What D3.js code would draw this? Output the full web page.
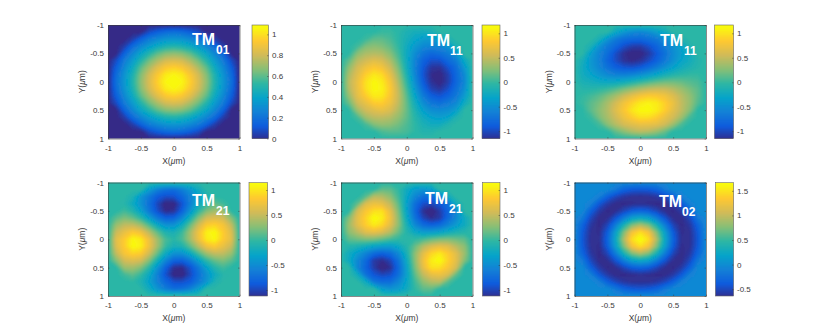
<!DOCTYPE html>
<html>
<head>
<meta charset="utf-8">
<script src="https://cdn.jsdelivr.net/npm/d3@7"></script>
<style>
  html, body { margin: 0; padding: 0; background: #fff; }
  svg { display: block; }
</style>
</head>
<body>
<div id="chart"></div>
<script>
// Field values, in hundredths, 17 x 17 samples
// rows run Y = -1 .. 1, columns X = -1 .. 1 (step 0.125)
const gridTM01 = [
  [0,0,0,0,0,0,0,0,0,0,0,0,0,0,0,0,0],
  [0,0,0,0,0,10,16,20,22,20,16,10,0,0,0,0,0],
  [0,0,0,6,17,26,31,35,36,35,31,26,17,6,0,0,0],
  [0,0,6,20,30,38,45,50,52,50,45,38,30,20,6,0,0],
  [0,0,17,30,42,52,62,68,70,68,62,52,42,30,17,0,0],
  [0,10,26,38,52,65,75,83,85,83,75,65,52,38,26,10,0],
  [0,16,31,45,62,75,87,95,98,95,87,75,62,45,31,16,0],
  [0,20,35,50,68,83,95,105,108,105,95,83,68,50,35,20,0],
  [0,22,36,52,70,85,98,108,111,108,98,85,70,52,36,22,0],
  [0,20,35,50,68,83,95,105,108,105,95,83,68,50,35,20,0],
  [0,16,31,45,62,75,87,95,98,95,87,75,62,45,31,16,0],
  [0,10,26,38,52,65,75,83,85,83,75,65,52,38,26,10,0],
  [0,0,17,30,42,52,62,68,70,68,62,52,42,30,17,0,0],
  [0,0,6,20,30,38,45,50,52,50,45,38,30,20,6,0,0],
  [0,0,0,6,17,26,31,35,36,35,31,26,17,6,0,0,0],
  [0,0,0,0,0,10,16,20,22,20,16,10,0,0,0,0,0],
  [0,0,0,0,0,0,0,0,0,0,0,0,0,0,0,0,0]
];
const gridTM11a = [
  [0,0,0,0,0,0,0,0,0,0,0,0,0,0,0,0,0],
  [0,0,0,0,0,5,5,-1,-10,-15,-16,-12,0,0,0,0,0],
  [0,0,0,6,18,18,11,-1,-13,-25,-34,-37,-30,-10,0,0,0],
  [0,0,8,28,33,29,19,2,-18,-36,-49,-53,-52,-41,-10,0,0],
  [0,0,32,45,48,46,31,8,-20,-46,-66,-75,-69,-60,-40,0,0],
  [0,19,50,61,70,64,46,16,-19,-53,-79,-92,-91,-75,-60,-22,0],
  [0,35,63,79,89,82,60,26,-15,-55,-86,-107,-109,-91,-72,-38,0],
  [0,46,70,93,107,100,74,36,-8,-52,-89,-113,-117,-102,-75,-49,0],
  [0,52,76,103,117,109,84,45,0,-45,-84,-109,-117,-103,-76,-52,0],
  [0,49,75,102,117,113,89,52,8,-36,-74,-100,-107,-93,-70,-46,0],
  [0,38,72,91,109,107,86,55,15,-26,-60,-82,-89,-79,-63,-35,0],
  [0,22,60,75,91,92,79,53,19,-16,-46,-64,-70,-61,-50,-19,0],
  [0,0,40,60,69,75,66,46,20,-8,-31,-46,-48,-45,-32,0,0],
  [0,0,10,41,52,53,49,36,18,-2,-19,-29,-33,-28,-8,0,0],
  [0,0,0,10,30,37,34,25,13,1,-11,-18,-18,-6,0,0,0],
  [0,0,0,0,0,12,16,15,10,1,-5,-5,0,0,0,0,0],
  [0,0,0,0,0,0,0,0,0,0,0,0,0,0,0,0,0]
];
const gridTM11b = [
  [0,0,0,0,0,0,0,0,0,0,0,0,0,0,0,0,0],
  [0,0,0,0,0,-22,-38,-49,-52,-46,-33,-19,0,0,0,0,0],
  [0,0,0,-12,-40,-61,-72,-75,-76,-70,-63,-49,-32,-8,0,0,0],
  [0,0,-10,-41,-62,-76,-92,-102,-103,-92,-78,-60,-44,-27,-6,0,0],
  [0,0,-32,-53,-71,-93,-110,-118,-117,-106,-87,-68,-47,-32,-17,0,0],
  [0,-14,-38,-54,-77,-94,-109,-114,-109,-96,-81,-62,-44,-27,-17,-5,0],
  [0,-18,-36,-51,-68,-81,-88,-90,-84,-73,-59,-43,-29,-17,-9,-3,0],
  [0,-17,-27,-39,-49,-56,-57,-53,-45,-35,-24,-13,-5,0,3,3,0],
  [0,-11,-15,-20,-23,-22,-17,-9,0,9,17,22,23,20,15,11,0],
  [0,-3,-3,0,5,13,24,35,45,53,57,56,49,39,27,17,0],
  [0,3,9,17,29,43,59,73,84,90,88,81,68,51,36,18,0],
  [0,5,17,27,44,62,81,96,109,114,109,94,77,54,38,14,0],
  [0,0,17,32,47,68,87,106,117,118,110,93,71,53,32,0,0],
  [0,0,6,27,44,60,78,92,103,102,92,76,62,41,10,0,0],
  [0,0,0,8,32,49,63,70,76,75,72,61,40,12,0,0,0],
  [0,0,0,0,0,19,33,46,52,49,38,22,0,0,0,0,0],
  [0,0,0,0,0,0,0,0,0,0,0,0,0,0,0,0,0]
];
const gridTM21a = [
  [0,0,0,0,0,0,0,0,0,0,0,0,0,0,0,0,0],
  [0,0,0,0,0,-31,-54,-67,-70,-57,-38,-17,0,0,0,0,0],
  [0,0,0,-8,-39,-61,-82,-90,-89,-74,-53,-28,-8,2,0,0,0],
  [0,0,-2,-18,-41,-67,-94,-116,-114,-88,-54,-20,4,18,8,0,0],
  [0,0,8,-4,-28,-61,-89,-110,-107,-78,-40,-1,28,41,39,0,0],
  [0,17,28,20,1,-30,-60,-78,-76,-50,-11,30,61,67,61,31,0],
  [0,38,53,54,40,11,-20,-41,-41,-18,20,60,89,94,83,54,0],
  [0,57,74,88,78,50,18,-6,-11,6,41,78,110,116,90,67,0],
  [0,70,89,114,107,76,41,11,0,11,41,76,107,114,89,70,0],
  [0,67,90,116,110,78,41,6,-11,-6,18,50,78,88,74,57,0],
  [0,54,83,94,89,60,20,-18,-41,-41,-20,11,40,54,53,38,0],
  [0,31,61,67,61,30,-11,-50,-76,-78,-60,-30,1,20,28,17,0],
  [0,0,39,41,28,-1,-40,-78,-107,-110,-89,-61,-28,-4,8,0,0],
  [0,0,8,18,4,-20,-54,-88,-114,-116,-94,-67,-41,-18,-2,0,0],
  [0,0,0,2,-8,-28,-53,-74,-89,-90,-82,-61,-39,-8,0,0,0],
  [0,0,0,0,0,-17,-38,-57,-70,-67,-54,-31,0,0,0,0,0],
  [0,0,0,0,0,0,0,0,0,0,0,0,0,0,0,0,0]
];
const gridTM21b = [
  [0,0,0,0,0,0,0,0,0,0,0,0,0,0,0,0,0],
  [0,0,0,0,0,19,18,3,-18,-34,-40,-31,0,0,0,0,0],
  [0,0,0,16,50,48,34,8,-23,-50,-69,-71,-62,-18,0,0,0],
  [0,0,18,66,76,72,53,17,-28,-68,-90,-94,-85,-66,-16,0,0],
  [0,0,62,85,100,102,71,26,-26,-73,-107,-119,-100,-76,-50,0,0],
  [0,31,71,94,119,109,78,32,-19,-65,-96,-109,-102,-72,-48,-19,0],
  [0,40,69,90,107,96,70,33,-10,-48,-70,-78,-71,-53,-34,-18,0],
  [0,34,50,68,73,65,48,21,-3,-21,-33,-32,-26,-17,-8,-3,0],
  [0,18,23,28,26,19,10,3,0,3,10,19,26,28,23,18,0],
  [0,-3,-8,-17,-26,-32,-33,-21,-3,21,48,65,73,68,50,34,0],
  [0,-18,-34,-53,-71,-78,-70,-48,-10,33,70,96,107,90,69,40,0],
  [0,-19,-48,-72,-102,-109,-96,-65,-19,32,78,109,119,94,71,31,0],
  [0,0,-50,-76,-100,-119,-107,-73,-26,26,71,102,100,85,62,0,0],
  [0,0,-16,-66,-85,-94,-90,-68,-28,17,53,72,76,66,18,0,0],
  [0,0,0,-18,-62,-71,-69,-50,-23,8,34,48,50,16,0,0,0],
  [0,0,0,0,0,-31,-40,-34,-18,3,18,19,0,0,0,0,0],
  [0,0,0,0,0,0,0,0,0,0,0,0,0,0,0,0,0]
];
const gridTM02 = [
  [0,0,0,0,0,0,0,0,0,0,0,0,0,0,0,0,0],
  [0,0,0,0,0,-12,-28,-35,-37,-35,-28,-12,0,0,0,0,0],
  [0,0,0,-6,-30,-46,-55,-59,-60,-59,-55,-46,-30,-6,0,0,0],
  [0,0,-6,-35,-53,-62,-63,-61,-60,-61,-63,-62,-53,-35,-6,0,0],
  [0,0,-30,-53,-63,-60,-47,-33,-28,-33,-47,-60,-63,-53,-30,0,0],
  [0,-12,-46,-62,-60,-38,-8,20,28,20,-8,-38,-60,-62,-46,-12,0],
  [0,-28,-55,-63,-47,-8,40,78,95,78,40,-8,-47,-63,-55,-28,0],
  [0,-35,-59,-61,-33,20,78,132,152,132,78,20,-33,-61,-59,-35,0],
  [0,-37,-60,-60,-28,28,95,152,172,152,95,28,-28,-60,-60,-37,0],
  [0,-35,-59,-61,-33,20,78,132,152,132,78,20,-33,-61,-59,-35,0],
  [0,-28,-55,-63,-47,-8,40,78,95,78,40,-8,-47,-63,-55,-28,0],
  [0,-12,-46,-62,-60,-38,-8,20,28,20,-8,-38,-60,-62,-46,-12,0],
  [0,0,-30,-53,-63,-60,-47,-33,-28,-33,-47,-60,-63,-53,-30,0,0],
  [0,0,-6,-35,-53,-62,-63,-61,-60,-61,-63,-62,-53,-35,-6,0,0],
  [0,0,0,-6,-30,-46,-55,-59,-60,-59,-55,-46,-30,-6,0,0,0],
  [0,0,0,0,0,-12,-28,-35,-37,-35,-28,-12,0,0,0,0,0],
  [0,0,0,0,0,0,0,0,0,0,0,0,0,0,0,0,0]
];

const grids = [gridTM01, gridTM11a, gridTM11b, gridTM21a, gridTM21b, gridTM02];
const modeNames = ['01', '11', '11', '21', '21', '02'];
const colorRanges = [[0, 1.09], [-1.15, 1.17], [-1.15, 1.17], [-1.12, 1.15], [-1.12, 1.15], [-0.64, 1.67]];
const colorTicks = [
  [0, 0.2, 0.4, 0.6, 0.8, 1],
  [-1, -0.5, 0, 0.5, 1],
  [-1, -0.5, 0, 0.5, 1],
  [-1, -0.5, 0, 0.5, 1],
  [-1, -0.5, 0, 0.5, 1],
  [-0.5, 0, 0.5, 1, 1.5]
];
const axisTicks = [-1, -0.5, 0, 0.5, 1];

// parula colormap stops
const parula = ['#352a87', '#0f5cdd', '#1481d6', '#06a4ca', '#2eb7a4', '#87bf77', '#d1bb59', '#fec832', '#f9fb0e'];

const W = 830, H = 333;
const FONT = '"Liberation Sans", Arial, Helvetica, sans-serif';
const INK = '#3a3a3a';
const panels = [
  { x: 108, y: 25, cx: 252, cw: 16.5, tm: [192, 45], sub: [216, 53.5] },
  { x: 341, y: 25, cx: 482, cw: 18, tm: [427, 46], sub: [450, 55] },
  { x: 574.5, y: 25, cx: 714.5, cw: 19, tm: [660, 46], sub: [684, 55] },
  { x: 108, y: 182.5, cx: 249, cw: 18.5, tm: [192, 206], sub: [216, 215] },
  { x: 341, y: 182.5, cx: 482.5, cw: 17.5, tm: [425, 204], sub: [449, 213] },
  { x: 574.5, y: 182.5, cx: 715.5, cw: 18, tm: [659, 207], sub: [682, 216] }
];
const plotW = 131.5, plotH = 113.5;

const svg = d3.select('#chart').append('svg')
  .attr('width', W).attr('height', H)
  .attr('viewBox', `0 0 ${W} ${H}`);
svg.append('rect').attr('width', W).attr('height', H).attr('fill', '#fff');

const defs = svg.append('defs');
defs.append('filter').attr('id', 'soft')
  .attr('x', '-10%').attr('y', '-10%').attr('width', '120%').attr('height', '120%')
  .append('feGaussianBlur').attr('stdDeviation', 0.8);

function styleAxis(g) {
  g.selectAll('path').attr('stroke', INK).attr('stroke-width', 0.6);
  g.selectAll('line').attr('stroke', INK).attr('stroke-width', 0.5);
  g.selectAll('text').attr('fill', INK).attr('font-size', 8).attr('font-family', FONT);
}

function drawPanel(p, idx) {
  const grid = grids[idx];
  const n = grid.length;
  const [lo, hi] = colorRanges[idx];
  const color = d3.scaleLinear()
    .domain(parula.map((_, i) => lo + (hi - lo) * i / (parula.length - 1)))
    .range(parula)
    .clamp(true);

  const x = d3.scaleLinear().domain([-1, 1]).range([p.x, p.x + plotW]);
  const y = d3.scaleLinear().domain([-1, 1]).range([p.y, p.y + plotH]);

  // grid sample i sits at contour coordinate i + 0.5
  const gx = d3.scaleLinear().domain([0.5, n - 0.5]).range([p.x, p.x + plotW]);
  const gy = d3.scaleLinear().domain([0.5, n - 0.5]).range([p.y, p.y + plotH]);
  const path = d3.geoPath(d3.geoTransform({
    point(a, b) { this.stream.point(gx(a), gy(b)); }
  }));

  const thresholds = d3.range(1, 128).map(i => lo + (hi - lo) * i / 128);
  const bands = d3.contours().size([n, n]).thresholds(thresholds)(grid.flat().map(v => v / 100));

  defs.append('clipPath').attr('id', `clip${idx}`)
    .append('rect').attr('x', p.x).attr('y', p.y).attr('width', plotW).attr('height', plotH);

  const heat = svg.append('g').attr('clip-path', `url(#clip${idx})`)
    .append('g').attr('filter', 'url(#soft)');
  heat.append('rect')
    .attr('x', p.x - 6).attr('y', p.y - 6)
    .attr('width', plotW + 12).attr('height', plotH + 12)
    .attr('fill', color(lo));
  heat.selectAll('path').data(bands).join('path')
    .attr('d', path)
    .attr('fill', d => color(d.value));

  // Axes: labels left and bottom, plain ticks on the far sides
  const bottom = d3.axisBottom(x).tickValues(axisTicks).tickFormat(String).tickSizeInner(-1.4).tickSizeOuter(0).tickPadding(6.5);
  const left = d3.axisLeft(y).tickValues(axisTicks).tickFormat(String).tickSizeInner(-1.4).tickSizeOuter(0).tickPadding(4);
  const top = d3.axisTop(x).tickValues(axisTicks).tickFormat('').tickSizeInner(-1.4).tickSizeOuter(0);
  const right = d3.axisRight(y).tickValues(axisTicks).tickFormat('').tickSizeInner(-1.4).tickSizeOuter(0);
  svg.append('g').attr('transform', `translate(0,${p.y + plotH})`).call(bottom).call(styleAxis);
  svg.append('g').attr('transform', `translate(${p.x},0)`).call(left).call(styleAxis);
  svg.append('g').attr('transform', `translate(0,${p.y})`).call(top).call(styleAxis);
  svg.append('g').attr('transform', `translate(${p.x + plotW},0)`).call(right).call(styleAxis);

  // Axis titles
  const xLab = svg.append('text')
    .attr('x', p.x + plotW / 2).attr('y', p.y + plotH + 25)
    .attr('text-anchor', 'middle')
    .attr('font-size', 8.5).attr('font-family', FONT).attr('fill', INK);
  xLab.append('tspan').text('X(');
  xLab.append('tspan').attr('font-style', 'italic').text('\u03bc');
  xLab.append('tspan').text('m)');

  const yLab = svg.append('text')
    .attr('transform', `translate(${p.x - 23},${p.y + plotH / 2}) rotate(-90)`)
    .attr('text-anchor', 'middle')
    .attr('font-size', 8.5).attr('font-family', FONT).attr('fill', INK);
  yLab.append('tspan').text('Y(');
  yLab.append('tspan').attr('font-style', 'italic').text('\u03bc');
  yLab.append('tspan').text('m)');

  // Mode label
  svg.append('text')
    .attr('x', p.tm[0]).attr('y', p.tm[1])
    .attr('font-size', 16).attr('font-weight', 'bold')
    .attr('font-family', FONT).attr('fill', '#fff')
    .text('TM');
  svg.append('text')
    .attr('x', p.sub[0]).attr('y', p.sub[1])
    .attr('font-size', 12).attr('font-weight', 'bold')
    .attr('font-family', FONT).attr('fill', '#fff')
    .text(modeNames[idx]);

  // Colorbar: one strip per level, each overlapping the one below to hide seams
  defs.append('clipPath').attr('id', `barclip${idx}`)
    .append('rect').attr('x', p.cx).attr('y', p.y).attr('width', p.cw).attr('height', plotH);
  const cy = d3.scaleLinear().domain([lo, hi]).range([p.y + plotH, p.y]);
  const levels = d3.range(128).map(i => lo + (hi - lo) * i / 128);
  const step = (hi - lo) / 128;
  svg.append('g').attr('clip-path', `url(#barclip${idx})`)
    .selectAll('rect').data(levels).join('rect')
    .attr('x', p.cx).attr('width', p.cw)
    .attr('y', d => cy(d + step))
    .attr('height', d => cy(d) - cy(d + step) + 2)
    .attr('fill', d => color(d + step / 2));
  svg.append('rect')
    .attr('x', p.cx).attr('y', p.y).attr('width', p.cw).attr('height', plotH)
    .attr('fill', 'none').attr('stroke', '#666').attr('stroke-width', 0.6);
  const barAxis = d3.axisRight(cy).tickValues(colorTicks[idx]).tickFormat(String)
    .tickSizeInner(-1.4).tickSizeOuter(0).tickPadding(3.5);
  svg.append('g').attr('transform', `translate(${p.cx + p.cw},0)`).call(barAxis).call(styleAxis)
    .select('path').remove();
}

panels.forEach(drawPanel);
</script>
</body>
</html>
